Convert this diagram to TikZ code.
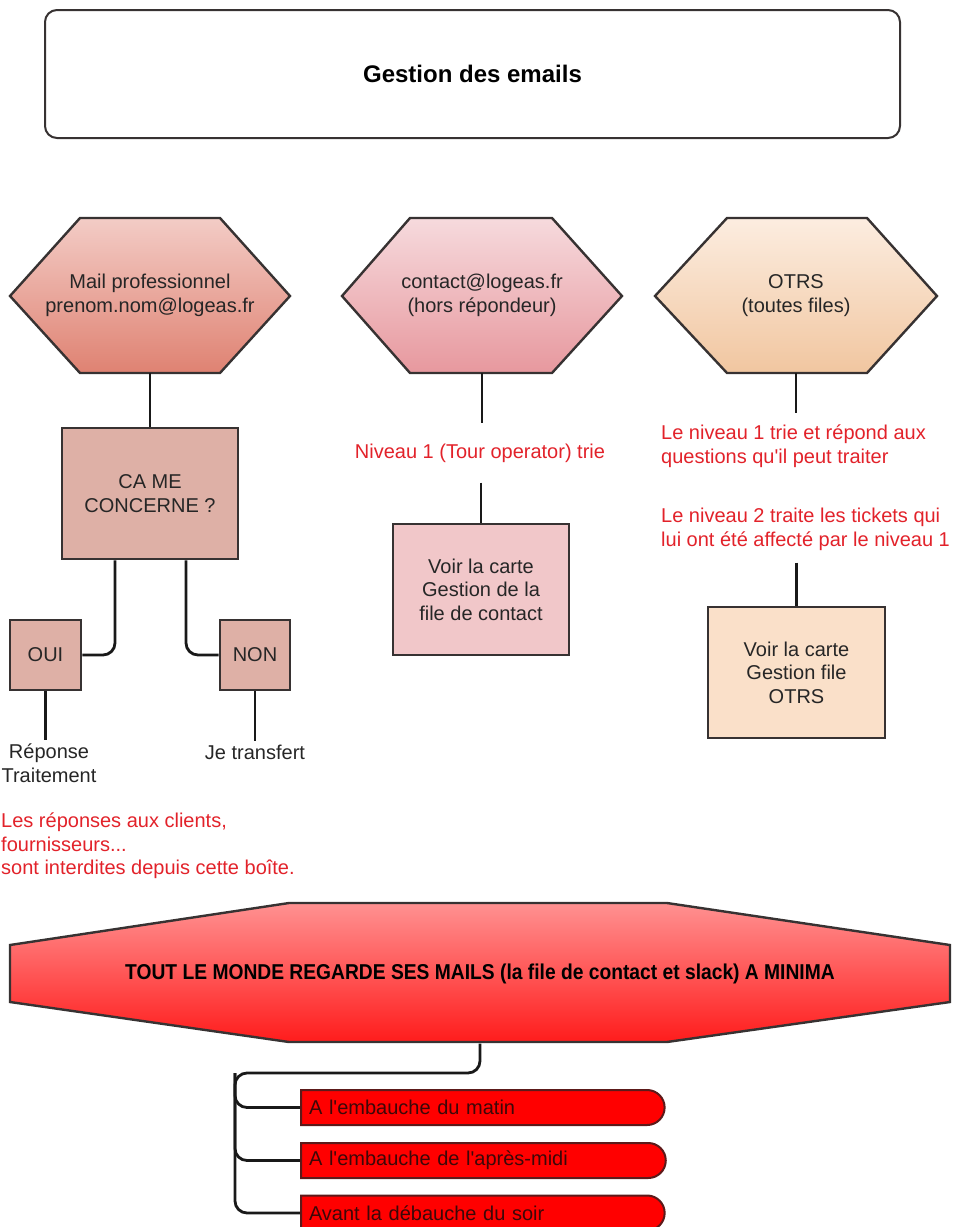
\documentclass[tikz,border=0pt]{standalone}
\usepackage{fontspec}
\setmainfont{Liberation Sans}[Ligatures=TeXOff]
\usepackage{tikz}
\usetikzlibrary{shapes.misc,calc,positioning}

\definecolor{boxline}{RGB}{55,50,50}
\definecolor{notered}{RGB}{226,34,42}
\definecolor{mailtop}{RGB}{243,204,198}
\definecolor{mailbot}{RGB}{223,130,114}
\definecolor{contacttop}{RGB}{246,218,221}
\definecolor{contactbot}{RGB}{231,152,158}
\definecolor{otrstop}{RGB}{252,237,224}
\definecolor{otrsbot}{RGB}{241,198,160}
\definecolor{cafill}{RGB}{222,176,166}
\definecolor{voirfill}{RGB}{241,199,201}
\definecolor{otrsfill}{RGB}{250,224,201}
\definecolor{octtop}{RGB}{255,145,145}
\definecolor{octbot}{RGB}{255,28,28}
\definecolor{pillline}{RGB}{92,26,26}
\definecolor{pilltext}{RGB}{60,8,8}

\begin{document}
\begin{tikzpicture}[x=1pt,y=-1pt,
  txt/.style={font=\fontsize{20}{23.5}\selectfont, text=black!85, align=center},
  box/.style={txt, draw=boxline, line width=2.6pt, inner sep=0pt},
  note/.style={font=\fontsize{20}{23.5}\selectfont, text=notered, align=left},
  hexline/.style={draw=boxline, line width=2.4pt, line join=miter},
  conn/.style={black!90, line width=2.8pt, rounded corners=12pt},
  pill/.style={rounded rectangle, rounded rectangle left arc=none, fill=red,
    draw=pillline, line width=2pt, minimum height=35pt, text width=346pt,
    align=left, inner xsep=8pt, font=\fontsize{20}{23.5}\selectfont, text=pilltext}]
\useasboundingbox (0,0) rectangle (963,1227);

\node [draw=boxline, line width=2pt, rounded corners=12pt, minimum width=855pt,
  minimum height=128pt, font=\bfseries\fontsize{24}{28}\selectfont] (titre) at (472.5,74) {Gestion des emails};

\path [hexline, top color=mailtop, bottom color=mailbot] (10,296) -- (80,218) -- (220,218) -- (290,296) -- (220,373) -- (80,373) -- cycle;
\path [hexline, top color=contacttop, bottom color=contactbot] (342,296) -- (410,218) -- (552,218) -- (622,296) -- (552,373) -- (410,373) -- cycle;
\path [hexline, top color=otrstop, bottom color=otrsbot] (655,296) -- (727,218) -- (867,218) -- (937,296) -- (867,373) -- (727,373) -- cycle;

\node [txt, minimum width=280pt, minimum height=155pt] (mail) at (150,295.5) {Mail professionnel\\prenom.nom@logeas.fr};
\node [txt, minimum width=280pt, minimum height=155pt] (contact) at (482,295.5) {contact@logeas.fr\\(hors répondeur)};
\node [txt, minimum width=282pt, minimum height=155pt] (otrs) at (796,295.5) {OTRS\\(toutes files)};

\node [box, fill=cafill, minimum width=176pt, minimum height=131pt] (concerne) at (150,493.5) {CA ME\\CONCERNE ?};
\node [box, fill=cafill, minimum width=71pt, minimum height=70pt] (oui) at (45.5,655) {OUI};
\node [box, fill=cafill, minimum width=70pt, minimum height=70pt] (non) at (255,655) {NON};
\node [txt] (reponse) at (49,763) {Réponse\\Traitement};
\node [txt] (transfert) at (255,752) {Je transfert};
\node [note, anchor=north west, inner sep=0pt] (interdit) at (1,813) {Les réponses aux clients,\\fournisseurs...\\sont interdites depuis cette boîte.};

\node [note, align=center, inner xsep=0pt, inner ysep=20pt] (niveau) at (480,453) {Niveau 1 (Tour operator) trie};
\node [box, fill=voirfill, minimum width=176pt, minimum height=131pt] (voircontact) at (481,589.5) {Voir la carte\\Gestion de la\\file de contact};

\node [note, anchor=north west, inner xsep=0pt, inner ysep=12pt] (trie) at (661,413) {Le niveau 1 trie et répond aux\\questions qu'il peut traiter};
\node [note, anchor=north west, inner xsep=0pt, inner ysep=12pt] (traite) at (661,496) {Le niveau 2 traite les tickets qui\\lui ont été affecté par le niveau 1};
\node [box, fill=otrsfill, minimum width=177pt, minimum height=131pt] (voirotrs) at (796.5,672.5) {Voir la carte\\Gestion file\\OTRS};

\path [hexline, top color=octtop, bottom color=octbot] (10,945) -- (289,903) -- (667,903) -- (950,945) -- (950,1002) -- (667,1042) -- (289,1042) -- (10,1002) -- cycle;
\node [txt, text=black, minimum width=940pt, minimum height=139pt, font=\bfseries\fontsize{21.5}{25}\selectfont] (tous) at (480,974) {\scalebox{0.895}[1]{TOUT LE MONDE REGARDE SES MAILS (la file de contact et slack) A MINIMA}};

\node [pill, anchor=west] (matin) at (300,1107.5) {A l'embauche du matin};
\node [pill, anchor=west] (apresmidi) at (300,1160.5) {A l'embauche de l'après-midi};
\node [pill, anchor=west] (soir) at (300,1213) {Avant la débauche du soir};

\draw [conn] (mail.south) -- (concerne.north);
\draw [conn] ([xshift=-35pt]concerne.south) |- (oui.east);
\draw [conn] ([xshift=36pt]concerne.south) |- (non.west);
\draw [conn] (oui.south) -- (oui.south |- reponse.north);
\draw [conn] (non.south) -- (non.south |- transfert.north);

\draw [conn] (contact.south) -- (contact.south |- niveau.north);
\draw [conn] (voircontact.north |- niveau.south) -- (voircontact.north);

\draw [conn] (otrs.south) -- (otrs.south |- trie.north);
\draw [conn] (voirotrs.north |- traite.south) -- (voirotrs.north);

\coordinate (fourche) at (235,1073);
\draw [conn] (tous.south) |- (fourche) |- (matin.west);
\draw [conn] (fourche) |- (apresmidi.west);
\draw [conn] (fourche) |- (soir.west);
\end{tikzpicture}
\end{document}
